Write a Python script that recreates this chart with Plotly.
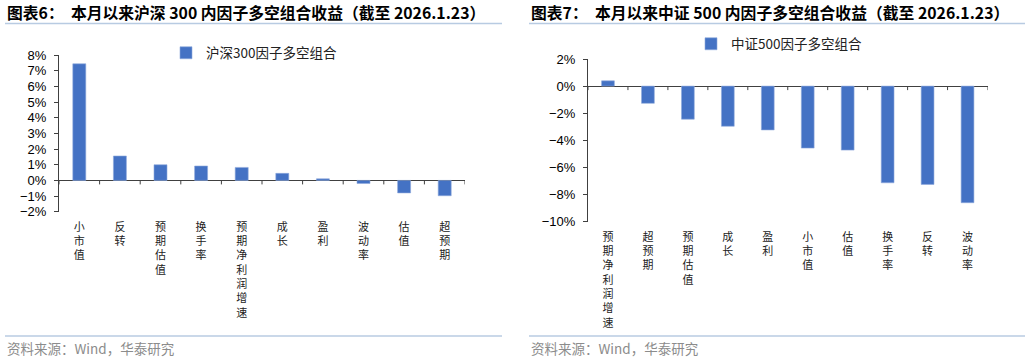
import plotly.graph_objects as go

# ---- data ----
hs300_factors = ["小市值", "反转", "预期估值", "换手率", "预期净利润增速", "成长", "盈利", "波动率", "估值", "超预期"]
hs300_returns = [7.45, 1.56, 1.00, 0.92, 0.83, 0.45, 0.10, -0.20, -0.80, -0.98]

zz500_factors = ["预期净利润增速", "超预期", "预期估值", "成长", "盈利", "小市值", "估值", "换手率", "反转", "波动率"]
zz500_returns = [0.39, -1.27, -2.44, -2.96, -3.23, -4.57, -4.72, -7.13, -7.25, -8.60]

hs300_name = "沪深300因子多空组合"
zz500_name = "中证500因子多空组合"
title_left = "图表6：  本月以来沪深 300 内因子多空组合收益（截至 2026.1.23）"
title_right = "图表7：  本月以来中证 500 内因子多空组合收益（截至 2026.1.23）"
source_text = "资料来源：Wind，华泰研究"

W, H = 1030, 361
BAR = "#4472C4"
AX = "#404040"
CJK = "Noto Sans CJK SC"
NUM = "Liberation Sans"
RULE = "#B8CBE2"


def px_x(p):
    return p / W


def px_y(p):
    return 1 - p / H


fig = go.Figure()
fig.add_trace(go.Bar(x=hs300_factors, y=hs300_returns, name=hs300_name, marker_color=BAR,
                     marker_line=dict(color="#8FAADC", width=0.6),
                     xaxis="x", yaxis="y", legend="legend", width=0.32))
fig.add_trace(go.Bar(x=zz500_factors, y=zz500_returns, name=zz500_name, marker_color=BAR,
                     marker_line=dict(color="#8FAADC", width=0.6),
                     xaxis="x2", yaxis="y2", legend="legend2", width=0.32))

xcommon = dict(type="category", showline=False, ticks="", showgrid=False, zeroline=False,
               tickfont=dict(family=CJK, size=11, color="#222"), tickangle=0,
               ticklabelstandoff=7, automargin=False)
ycommon = dict(showline=True, linecolor=AX, linewidth=1, ticks="outside", ticklen=4,
               tickcolor=AX, showgrid=False, zeroline=True, zerolinecolor=AX, zerolinewidth=1,
               ticksuffix="%", tickfont=dict(family=NUM, size=13, color="#000"),
               ticklabelstandoff=5, automargin=False)

fig.update_layout(
    width=W, height=H, autosize=False,
    margin=dict(l=0, r=0, t=0, b=0, autoexpand=False),
    paper_bgcolor="white", plot_bgcolor="white",
    bargap=0.68,
    xaxis=dict(domain=[px_x(59), px_x(465)], anchor="y",
               tickvals=hs300_factors, ticktext=["<br>".join(c) for c in hs300_factors],
               range=[-0.5, len(hs300_factors) - 0.5], **xcommon),
    yaxis=dict(domain=[px_y(211.7), px_y(55.2)], anchor="x", range=[-2, 8], dtick=1, **ycommon),
    xaxis2=dict(domain=[px_x(588), px_x(987.5)], anchor="y2",
                tickvals=zz500_factors, ticktext=["<br>".join(c) for c in zz500_factors],
                range=[-0.5, len(zz500_factors) - 0.5], **xcommon),
    yaxis2=dict(domain=[px_y(221.7), px_y(59)], anchor="x2", range=[-10, 2], dtick=2, **ycommon),
    legend=dict(x=px_x(166), y=px_y(53), xanchor="left", yanchor="middle",
                bgcolor="rgba(0,0,0,0)", font=dict(family=CJK, size=13.5, color="#222"),
                itemwidth=30),
    legend2=dict(x=px_x(691), y=px_y(44), xanchor="left", yanchor="middle",
                 bgcolor="rgba(0,0,0,0)", font=dict(family=CJK, size=13.5, color="#222"),
                 itemwidth=30),
    showlegend=True,
)

shapes = []
# tick marks on the zero line at category boundaries
for xa, ya, n in (("x", "y", len(hs300_factors)), ("x2", "y2", len(zz500_factors))):
    for i in range(n + 1):
        b = i - 0.5
        shapes.append(dict(type="line", xref=xa, yref=ya, x0=b, x1=b,
                           ysizemode="pixel", yanchor=0, y0=0, y1=-4,
                           line=dict(color=AX, width=1)))
# title / footer rules
for x0, x1 in ((5, 502), (529, 1025)):
    for yy in (23.5, 336):
        shapes.append(dict(type="line", xref="paper", yref="paper",
                           x0=px_x(x0), x1=px_x(x1), y0=px_y(yy), y1=px_y(yy),
                           line=dict(color=RULE, width=1.5)))
fig.update_layout(shapes=shapes)

annotations = []
for txt, x in ((title_left, 5), (title_right, 529)):
    annotations.append(dict(text="<b>" + txt + "</b>", xref="paper", yref="paper",
                            x=px_x(x), y=px_y(13), xanchor="left", yanchor="middle",
                            showarrow=False, font=dict(family=CJK, size=15.8, color="#000")))
for x in (5, 529):
    annotations.append(dict(text=source_text, xref="paper", yref="paper",
                            x=px_x(x), y=px_y(348), xanchor="left", yanchor="middle",
                            showarrow=False, font=dict(family=CJK, size=13.5, color="#8c8c8c")))
fig.update_layout(annotations=annotations)

# remove the browser's default 8px body margin so the figure fills the window exactly
fig.write_html("out.html",
               config=dict(displayModeBar=False),
               post_script="document.body.style.margin='0';document.body.style.overflow='hidden';")
